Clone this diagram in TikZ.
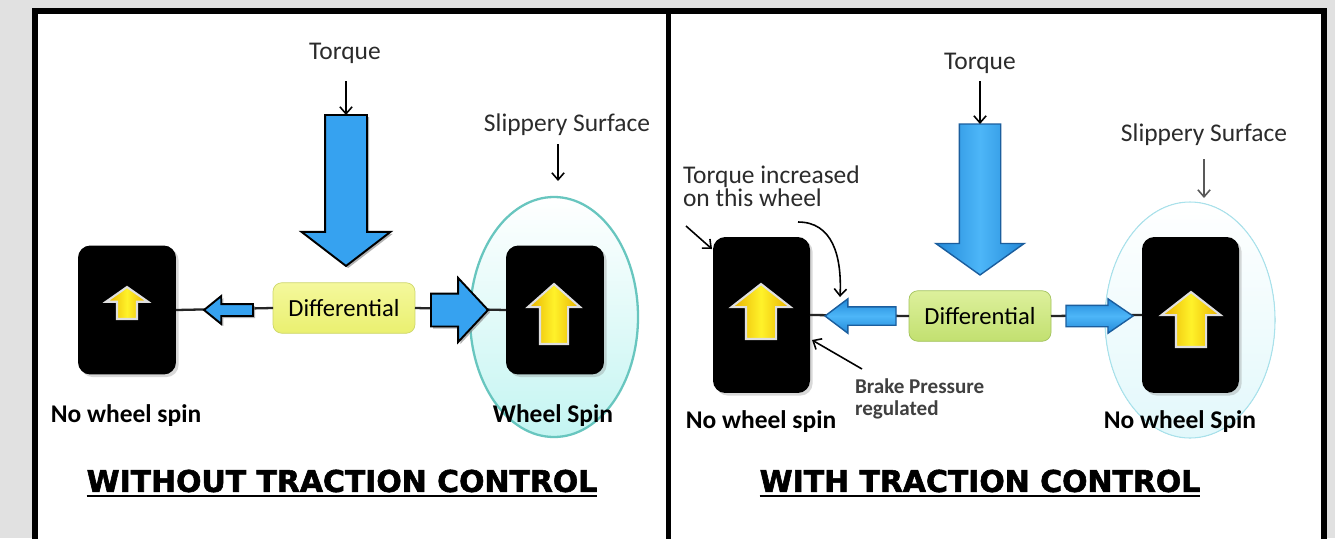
\documentclass[tikz,border=0pt]{standalone}
\usepackage{fontspec}
\setmainfont{Carlito}
\newfontfamily\ttlfont{DejaVu Sans}[BoldFeatures={FakeBold=2}]
\usetikzlibrary{shapes.arrows, arrows.meta, shadows}

\definecolor{bggray}{HTML}{E1E1E1}
\definecolor{txtgray}{HTML}{2B2B2B}
\definecolor{arrblue}{HTML}{36A2F0}
\definecolor{arrdark}{HTML}{1B5E9E}
\definecolor{blueL}{HTML}{4DB6F8}
\definecolor{blueM}{HTML}{2389D8}
\definecolor{yelL}{HTML}{FFF22A}
\definecolor{yelD}{HTML}{E8B000}
\definecolor{difAtop}{HTML}{F4F89C}
\definecolor{difAbot}{HTML}{EAF070}
\definecolor{difAedge}{HTML}{CDD66A}
\definecolor{difBtop}{HTML}{DDF09C}
\definecolor{difBbot}{HTML}{C2E070}
\definecolor{difBedge}{HTML}{A2C25C}
\definecolor{ellAedge}{HTML}{68C6BF}
\definecolor{ellAfill}{HTML}{C4F5F2}
\definecolor{ellBedge}{HTML}{A8E2EC}
\definecolor{ellBfill}{HTML}{E2F8FB}

\begin{document}
\begin{tikzpicture}[x=0.02cm, y=-0.02cm,
    every node/.style={inner sep=0, outer sep=0},
    lbl/.style={font=\fontsize{14.5}{13}\selectfont, text=txtgray},
    bold/.style={font=\fontsize{14.5}{13}\selectfont\bfseries, text=black},
    ttl/.style={font=\ttlfont\bfseries\fontsize{17}{19}\selectfont},
    ptr/.style={-{Straight Barb[length=4pt,width=7pt]}, line width=0.9pt},
    axle/.style={line width=1.3pt, draw=black!85},
    wheel/.style={fill=black, rounded corners=7pt,
      drop shadow={shadow xshift=1.5pt, shadow yshift=-1.5pt, opacity=.3}},
    diff/.style={rounded corners=5pt, minimum width=2.84cm, minimum height=1.01cm, font=\fontsize{14}{16}\selectfont},
    bluA/.style={single arrow, draw=black, line width=1.1pt, fill=arrblue, anchor=tail,
      drop shadow={shadow xshift=1.2pt, shadow yshift=-1.2pt, opacity=.6}},
    bluB/.style={single arrow, draw=arrdark, line width=0.8pt, anchor=tail},
    yel/.style={single arrow, shape border rotate=90, draw=gray!25, line width=1.2pt,
      left color=yelD, right color=yelD, middle color=yelL, anchor=tail}]

  \useasboundingbox (0,0) rectangle (1335,538);
  \fill [bggray] (0,0) rectangle (1335,538);
  \fill [white] (35,11) rectangle (1324,545);
  \draw [line width=3.4pt] (35,545) -- (35,11) -- (1324,11) -- (1324,545);
  \draw [line width=2.8pt] (668.5,11) -- (668.5,545);

  % without traction control
  \fill [top color=white, bottom color=ellAfill, draw=ellAedge, line width=1.3pt]
    (554,317) ellipse [x radius=84, y radius=120];
  \node [lbl] (tqA) at (345,53) {Torque};
  \node [lbl] (slA) at (567,125) {Slippery Surface};
  \coordinate (tqAa) at (346,81);
  \coordinate (slAa) at (558,144);
  \coordinate (slAb) at (558,181);
  \node [wheel, minimum width=1.96cm, minimum height=2.58cm] (lwA) at (127,310) {};
  \node [wheel, minimum width=1.96cm, minimum height=2.58cm] (rwA) at (555,310) {};
  \node [diff, draw=difAedge, top color=difAtop, bottom color=difAbot] (difA) at (344,308) {Differential};
  \draw [axle] (lwA.east) -- (difA.west);
  \draw [axle] (difA.east) -- (rwA.west);
  \node [bluA, shape border rotate=270, inner sep=0.4cm, single arrow head extend=0.47cm,
    minimum height=3.02cm, single arrow tip angle=105] (dnA) at (346,115) {};
  \node [bluA, shape border rotate=180, inner sep=0.1cm, single arrow head extend=0.16cm,
    minimum height=0.98cm, single arrow tip angle=78] (laA) at (253,310) {};
  \node [bluA, inner sep=0.31cm, single arrow head extend=0.31cm,
    minimum height=1.14cm, single arrow tip angle=94] (raA) at (431,310) {};
  \node [yel, inner sep=0.18cm, single arrow head extend=0.22cm, minimum height=0.64cm,
    single arrow tip angle=110] (ylA) at (127,319) {};
  \node [yel, inner sep=0.26cm, single arrow head extend=0.24cm, minimum height=1.2cm,
    single arrow tip angle=97] (yrA) at (554,344) {};
  \draw [ptr] (tqAa) -- (dnA.tail);
  \draw [ptr] (slAa) -- (slAb);
  \node [bold] (nsA) at (126,416) {No wheel spin};
  \node [bold] (wsA) at (553,416) {Wheel Spin};
  \node [ttl] (ttlA) at (342,481) {WITHOUT TRACTION CONTROL};
  \draw [line width=1.2pt] ([yshift=-2.4pt]ttlA.base west) -- ([yshift=-2.4pt]ttlA.base east);

  % with traction control
  \fill [top color=white, bottom color=ellBfill, draw=ellBedge, line width=0.6pt]
    (1190,320) ellipse [x radius=85, y radius=118];
  \node [lbl] (tqB) at (980,63) {Torque};
  \node [lbl] (slB) at (1204,135) {Slippery Surface};
  \coordinate (tqBa) at (980,81);
  \coordinate (slBa) at (1204,159);
  \coordinate (slBb) at (1204,198);
  \node [wheel, minimum width=1.94cm, minimum height=3.12cm] (lwB) at (761.5,315) {};
  \node [wheel, minimum width=1.94cm, minimum height=3.12cm] (rwB) at (1190.5,315) {};
  \node [diff, draw=difBedge, top color=difBtop, bottom color=difBbot] (difB) at (980,316) {Differential};
  \draw [axle] (lwB.east) -- (difB.west);
  \draw [axle] (difB.east) -- (rwB.west);
  \node [bluB, shape border rotate=270, inner sep=0.4cm, single arrow head extend=0.47cm,
    minimum height=3.02cm, single arrow tip angle=109,
    left color=blueM, right color=blueM, middle color=blueL] (dnB) at (980,124) {};
  \node [bluB, shape border rotate=180, inner sep=0.17cm, single arrow head extend=0.16cm,
    minimum height=1.42cm, single arrow tip angle=74,
    top color=blueM, bottom color=blueM, middle color=blueL] (laB) at (896,316) {};
  \node [bluB, inner sep=0.2cm, single arrow head extend=0.13cm,
    minimum height=1.34cm, single arrow tip angle=69,
    top color=blueM, bottom color=blueM, middle color=blueL] (raB) at (1066,316) {};
  \node [yel, inner sep=0.28cm, single arrow head extend=0.29cm, minimum height=1.1cm,
    single arrow tip angle=104] (ylB) at (761,339) {};
  \node [yel, inner sep=0.28cm, single arrow head extend=0.29cm, minimum height=1.1cm,
    single arrow tip angle=104] (yrB) at (1191,347) {};
  \draw [ptr] (tqBa) -- (dnB.tail);
  \draw [ptr, draw=black!65] (slBa) -- (slBb);
  \node [lbl, anchor=west, align=left] (tiB) at (683,186) {Torque increased\\on this wheel};
  \coordinate (tiBa) at (686,226);
  \coordinate (tiBb) at (712,249);
  \coordinate (tiBc) at (798,222);
  \coordinate (tiBd) at (840,297);
  \draw [ptr] (tiBa) -- (tiBb);
  \draw [ptr] (tiBc) .. controls (832,222) and (842,255) .. (tiBd);
  \node [anchor=west, align=left, text=black!75, font=\fontsize{12}{12.5}\selectfont\bfseries] (bpB) at (855,399) {Brake Pressure\\regulated};
  \coordinate (bpBa) at (862,369);
  \coordinate (bpBb) at (812,340);
  \draw [ptr] (bpBa) -- (bpBb);
  \node [bold] (nsB) at (761,422) {No wheel spin};
  \node [bold] (nwB) at (1180,422) {No wheel Spin};
  \node [ttl] (ttlB) at (980,481) {WITH TRACTION CONTROL};
  \draw [line width=1.2pt] ([yshift=-2.4pt]ttlB.base west) -- ([yshift=-2.4pt]ttlB.base east);
\end{tikzpicture}
\end{document}
